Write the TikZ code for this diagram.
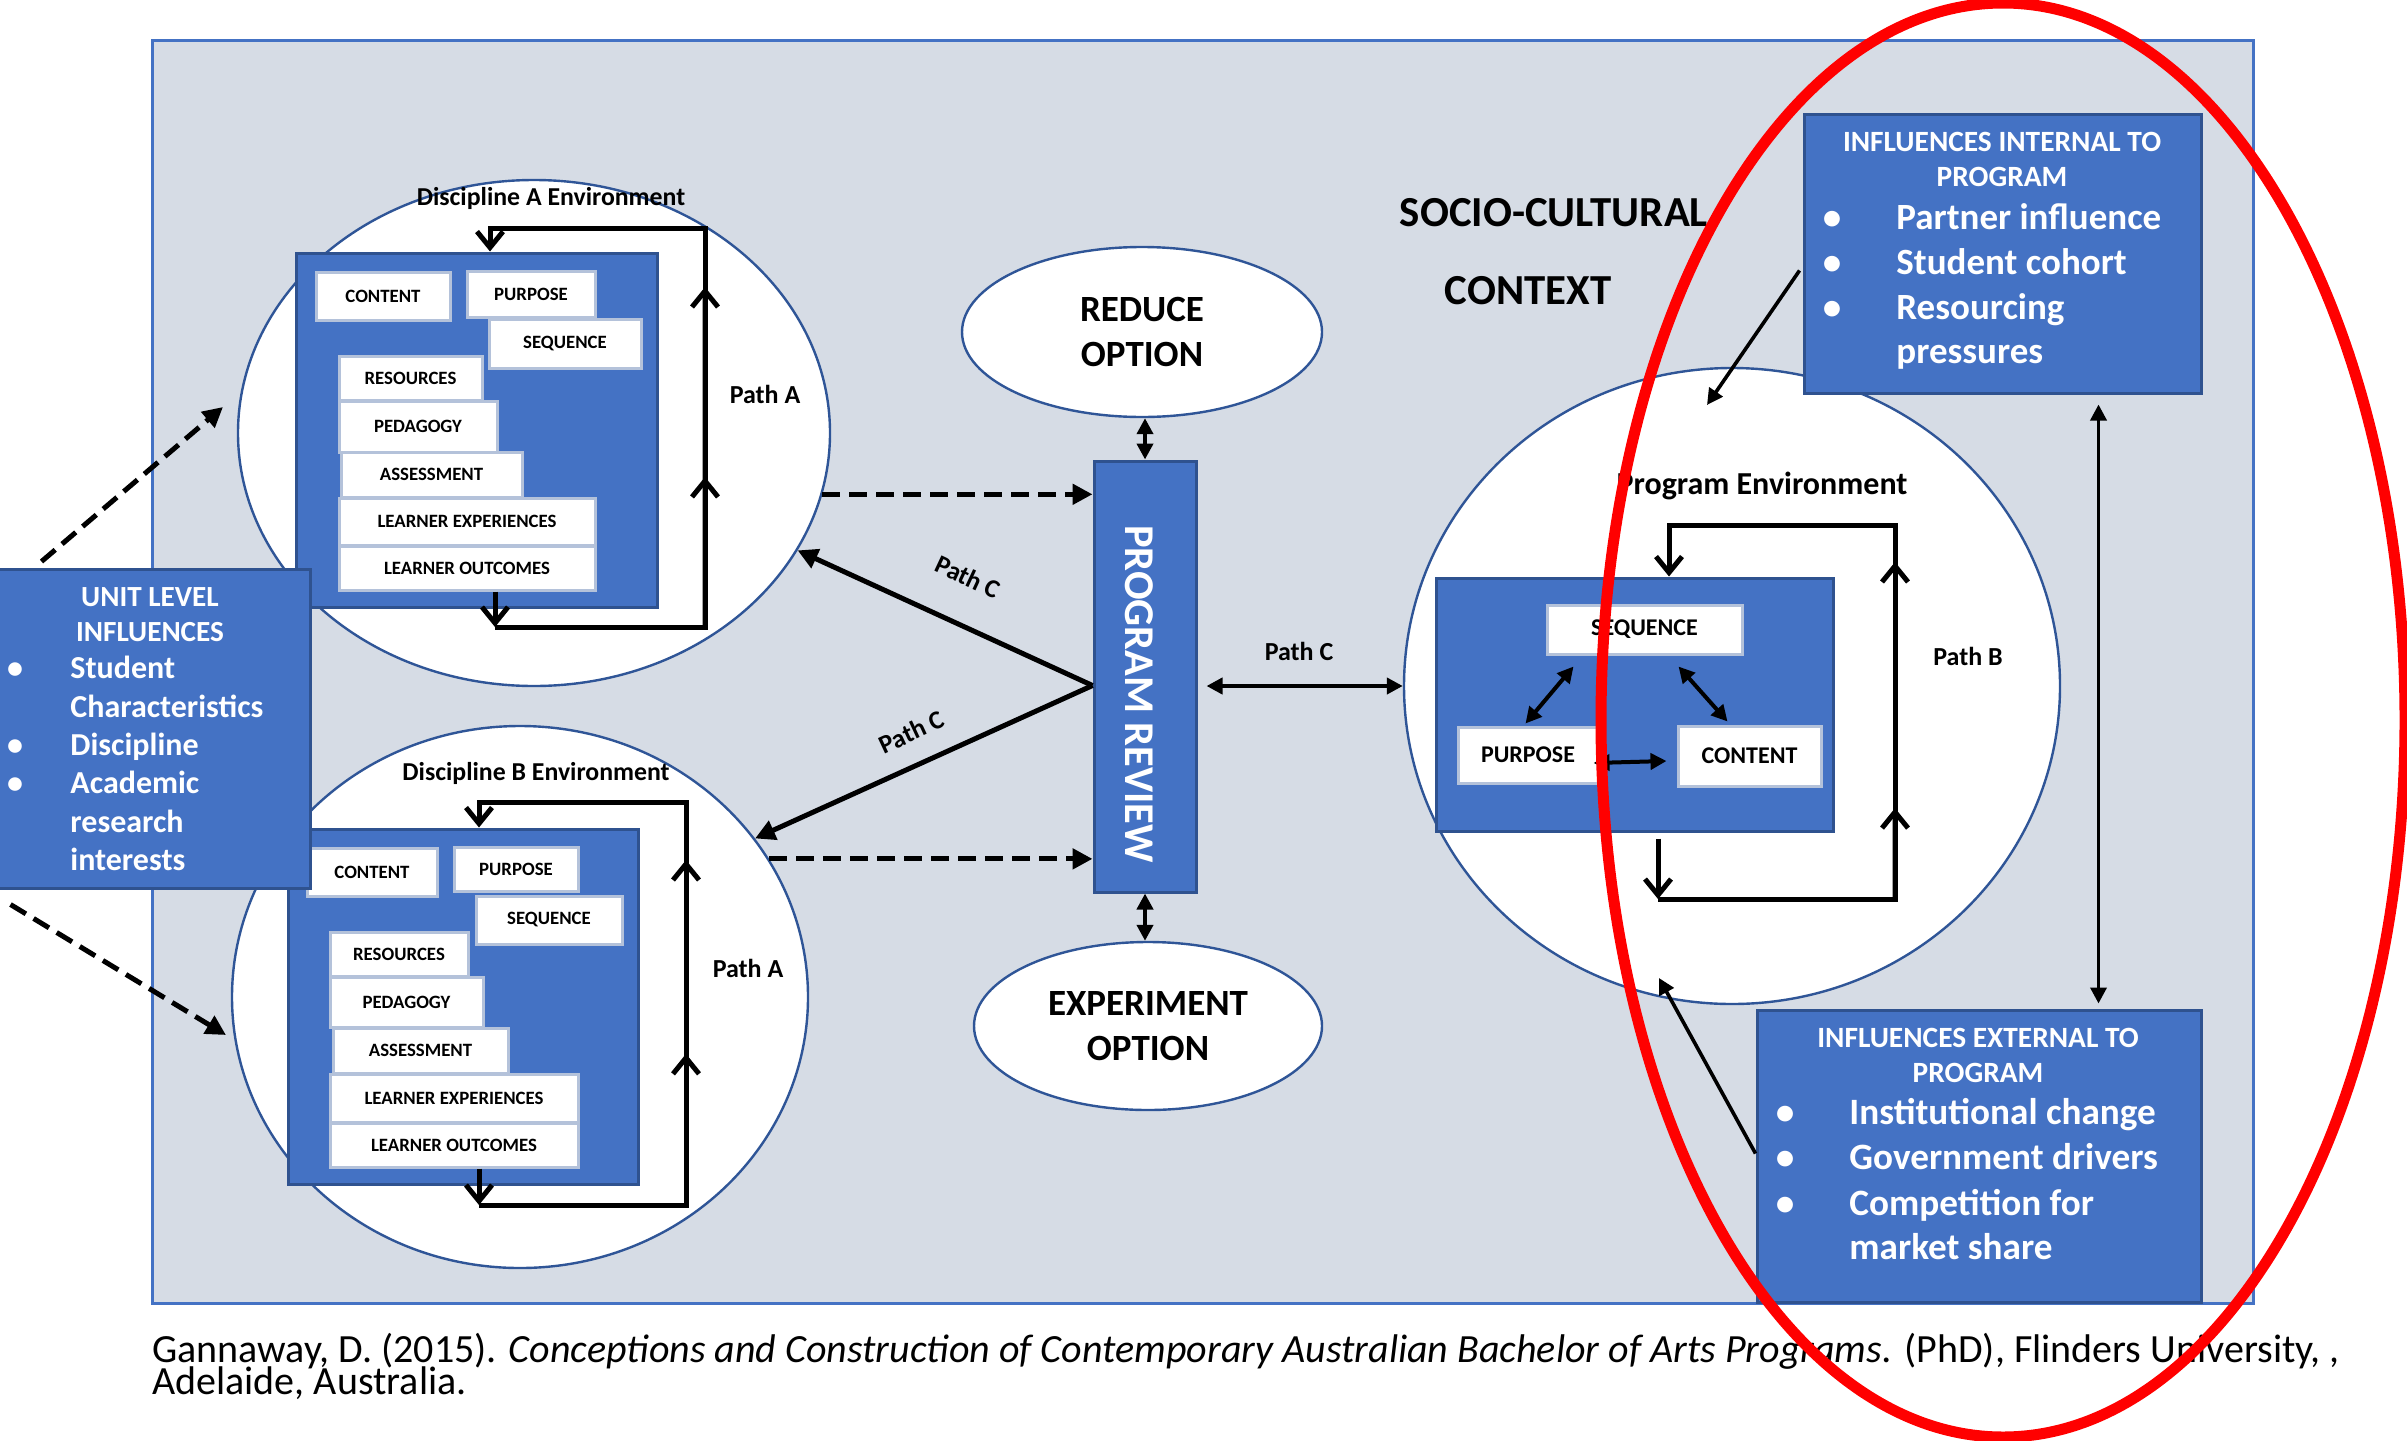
\documentclass[tikz,border=0pt]{standalone}
\usepackage{fontspec}
\setmainfont{Carlito}
\usetikzlibrary{shapes.geometric,arrows.meta,calc}
\definecolor{bgfill}{HTML}{D6DCE5}
\definecolor{bgline}{HTML}{4472C4}
\definecolor{bluefill}{HTML}{4472C4}
\definecolor{blueline}{HTML}{2F528F}
\definecolor{circline}{HTML}{2F5597}
\definecolor{wline}{HTML}{B4C2DA}
\definecolor{redring}{HTML}{FF0000}
\newcommand\fsz[1]{\fontsize{#1}{#1}\selectfont}
\newcommand\mkbox[7]{%
  \pgfmathsetmacro\mkX{(#3+#5)/2}%
  \pgfmathsetmacro\mkY{(#4+#6)/2}%
  \pgfmathsetmacro\mkW{(#5-#3)/2}%
  \pgfmathsetmacro\mkH{(#6-#4)/2}%
  \node[#1, minimum width=\mkW pt, minimum height=\mkH pt] (#2) at (\mkX,\mkY) {#7};%
}
\tikzset{
  bg/.style={draw=bgline, fill=bgfill, line width=1.5pt, inner sep=0},
  bluebox/.style={draw=blueline, fill=bluefill, line width=1.5pt, inner sep=0},
  wbox/.style={draw=wline, fill=white, line width=1.5pt, inner sep=0, font=\bfseries\fsz{9.4}},
  pbox/.style={wbox, font=\bfseries\fsz{12}},
  envell/.style={ellipse, draw=circline, fill=white, line width=1.2pt, inner sep=0},
  loopline/.style={line width=2.5pt, line join=miter},
  loophead/.style={loopline, -{Straight Barb[length=8pt,width=13pt]}},
  solidarrow/.style={line width=2.5pt, -{Triangle[length=10pt,width=10pt]}},
  dasharrow/.style={line width=2.5pt, dash pattern=on 9pt off 4.5pt, -{Triangle[length=10pt,width=10pt]}},
  dblarrow/.style={line width=2pt, {Triangle[length=8pt,width=8pt]}-{Triangle[length=8pt,width=8pt]}},
  thinarrow/.style={line width=1.8pt, -{Triangle[length=8pt,width=8pt]}},
  lbl/.style={font=\bfseries\fsz{13}, inner sep=0},
  wtxt/.style={text=white, inner sep=0},
}
\begin{document}
\begin{tikzpicture}[x=0.5pt,y=-0.5pt]
\useasboundingbox (0,0) rectangle (2407,1440);
% background
\mkbox{bg}{bgr}{152}{40}{2253}{1303}{}
% environment ellipses
\node[envell, minimum width=296pt, minimum height=253pt] (discA) at (534,433) {};
\node[envell, minimum width=288pt, minimum height=271pt] (discB) at (520,997) {};
\node[envell, minimum width=328pt, minimum height=318pt] (progc) at (1732,686) {};
\node[envell, minimum width=180pt, minimum height=85pt, font=\bfseries\fontsize{18.5}{22.5}\selectfont, align=center] (reduce) at (1142,332) {REDUCE\\OPTION};
\node[envell, minimum width=174pt, minimum height=84pt, font=\bfseries\fontsize{18.5}{22.5}\selectfont, align=center] (expt) at (1148,1026) {EXPERIMENT\\OPTION};
% discipline A
\mkbox{bluebox}{boxA}{296}{253}{657}{607}{}
\mkbox{wbox}{aCo}{316}{272}{450}{320}{CONTENT}
\mkbox{wbox}{aPu}{467}{271}{595}{317}{PURPOSE}
\mkbox{wbox}{aSe}{489}{319}{641}{368}{SEQUENCE}
\mkbox{wbox}{aRe}{339}{356}{482}{400}{RESOURCES}
\mkbox{wbox}{aPe}{339}{401}{497}{452}{PEDAGOGY}
\mkbox{wbox}{aAs}{341}{452}{522}{497}{ASSESSMENT}
\mkbox{wbox}{aLE}{339}{498}{595}{545}{LEARNER EXPERIENCES}
\mkbox{wbox}{aLO}{339}{546}{595}{590}{LEARNER OUTCOMES}
% discipline B
\mkbox{bluebox}{boxB}{288}{829}{638}{1184}{}
\mkbox{wbox}{bCo}{307}{848}{437}{896}{CONTENT}
\mkbox{wbox}{bPu}{454}{847}{578}{891}{PURPOSE}
\mkbox{wbox}{bSe}{476}{896}{622}{944}{SEQUENCE}
\mkbox{wbox}{bRe}{330}{932}{468}{976}{RESOURCES}
\mkbox{wbox}{bPe}{330}{977}{483}{1027}{PEDAGOGY}
\mkbox{wbox}{bAs}{333}{1028}{508}{1073}{ASSESSMENT}
\mkbox{wbox}{bLE}{330}{1074}{578}{1122}{LEARNER EXPERIENCES}
\mkbox{wbox}{bLO}{330}{1123}{578}{1167}{LEARNER OUTCOMES}
% program environment
\mkbox{bluebox}{progbox}{1436}{578}{1833}{831}{}
\mkbox{pbox}{pSe}{1547}{605}{1742}{654}{SEQUENCE}
\mkbox{pbox}{pPu}{1458}{727}{1598}{783}{PURPOSE}
\mkbox{pbox}{pCo}{1678}{726}{1821}{786}{CONTENT}
% program review
\mkbox{bluebox}{PR}{1094}{461}{1196}{892}{}
\node[wtxt, rotate=-90, font=\bfseries\fsz{21.2}] (prtext) at (1139,694) {PROGRAM REVIEW};
% loop A
\coordinate (aB) at (495,627);
\coordinate (aBR) at (705,627);
\coordinate (aTR) at (705,228);
\coordinate (aT) at (490,228);
\draw[loophead] (aLO.south -| aB) -- (aB);
\draw[loophead] (aB) -- (aBR) -- (aTR) -- (aT) -- (aT |- boxA.north);
\draw[loophead] (aBR) -- ($(aBR)!0.376!(aTR)$);
\draw[loophead] (aBR) -- ($(aBR)!0.852!(aTR)$);
% loop B
\coordinate (bB) at (479,1205);
\coordinate (bBR) at (686,1205);
\coordinate (bTR) at (686,802);
\coordinate (bT) at (479,802);
\draw[loophead] (bLO.south -| bB) -- (bB);
\draw[loophead] (bB) -- (bBR) -- (bTR) -- (bT) -- (bT |- boxB.north);
\draw[loophead] (bBR) -- ($(bBR)!0.375!(bTR)$);
\draw[loophead] (bBR) -- ($(bBR)!0.856!(bTR)$);
% loop P
\coordinate (pB) at (1658,899);
\coordinate (pBR) at (1895,899);
\coordinate (pTR) at (1895,525);
\coordinate (pT) at (1669,525);
\draw[loophead] ($(progbox.south -| pB)+(0,6)$) -- (pB);
\draw[loophead] (pB) -- (pBR) -- (pTR) -- (pT) -- (pT |- progbox.north);
\draw[loophead] (pBR) -- ($(pBR)!0.243!(pTR)$);
\draw[loophead] (pBR) -- ($(pBR)!0.901!(pTR)$);
% program inner arrows
\draw[dblarrow] ($(pSe.south west)+(28,11)$) -- ($(pPu.north west)+(69,-2)$);
\draw[dblarrow] ($(pSe.south west)+(133,11)$) -- ($(pCo.north west)+(51,-3)$);
\draw[dblarrow] ($(pPu.east)+(-6,8)$) -- ($(pCo.west)+(-10,5)$);
% path C
\coordinate (apex) at ($(PR.west)+(0,9)$);
\draw[solidarrow] (apex) -- (discA.-24);
\draw[solidarrow] (apex) -- (discB.34);
\node[lbl, rotate=-25] (pcA) at (968,577) {Path C};
\node[lbl, rotate=25] (pcB) at (911,732) {Path C};
\draw[dblarrow] (PR.east |- progc.west) ++(9,0) -- (progc.west);
\node[lbl] (pcC) at (1299,651) {Path C};
% dashed arrows to program review
\draw[dasharrow] (discA.-12) -- (discA.-12 -| PR.west);
\draw[dasharrow] (discB.29) -- (discB.29 -| PR.west);
% option arrows
\draw[dblarrow] (PR.north) -- (PR.north |- reduce.south);
\draw[dblarrow] (PR.south) -- (PR.south |- expt.north);
% labels
\node[lbl] (envA) at (551,198) {\fsz{12.9}Discipline A Environment};
\node[lbl] (envB) at (536,773) {\fsz{12.9}Discipline B Environment};
\node[lbl] (envP) at (1762,486) {\fsz{16}Program Environment};
\node[lbl] (paA) at (765,394) {Path A};
\node[lbl] (paB) at (748,968) {Path A};
\node[lbl] (pbB) at (1968,656) {Path B};
\node[lbl, font=\bfseries\fsz{21.4}] (soc1) at (1554,213) {SOCIO-CULTURAL};
\node[lbl, font=\bfseries\fsz{21.4}] (soc2) at (1528,291) {CONTEXT};
% unit level influences
\mkbox{bluebox}{unit}{-2}{569}{310}{888}{}
\node[wtxt, font=\bfseries\fsz{14.6}] (uT1) at (150,597) {UNIT LEVEL};
\node[wtxt, font=\bfseries\fsz{14.6}] (uT2) at (150,632) {INFLUENCES};
\begin{scope}[every node/.style={wtxt, anchor=base west, font=\bfseries\fsz{16}}]
\node (u1) at (70,678) {Student};
\node (u2) at (70,717) {Characteristics};
\node (u3) at (70,755) {Discipline};
\node (u4) at (70,793) {Academic};
\node (u5) at (70,832) {research};
\node (u6) at (70,870) {interests};
\end{scope}
\begin{scope}[every node/.style={wtxt, anchor=base, font=\bfseries\fsz{16}}]
\node (ub1) at (15,678) {\textbullet};
\node (ub2) at (15,755) {\textbullet};
\node (ub3) at (15,793) {\textbullet};
\end{scope}
\draw[dasharrow] ($(unit.north west)+(45,-6)$) -- (223,407) coordinate (uTipA);
\draw[dasharrow] ($(unit.south west)+(14,15)$) -- (226,1035) coordinate (uTipB);
% internal influences
\mkbox{bluebox}{intbox}{1804}{114}{2201}{393}{}
\node[wtxt, font=\bfseries\fsz{14.7}] (iT1) at (2002,142) {INFLUENCES INTERNAL TO};
\node[wtxt, font=\bfseries\fsz{14.7}] (iT2) at (2002,177) {PROGRAM};
\begin{scope}[every node/.style={wtxt, anchor=base west, font=\bfseries\fsz{18.5}}]
\node (i1) at (1896,229) {Partner influence};
\node (i2) at (1896,274) {Student cohort};
\node (i3) at (1896,319) {Resourcing};
\node (i4) at (1896,363) {pressures};
\end{scope}
\begin{scope}[every node/.style={wtxt, anchor=base, font=\bfseries\fsz{18.5}}]
\node (ib1) at (1832,229) {\textbullet};
\node (ib2) at (1832,274) {\textbullet};
\node (ib3) at (1832,319) {\textbullet};
\end{scope}
% external influences
\mkbox{bluebox}{extbox}{1757}{1010}{2201}{1302}{}
\node[wtxt, font=\bfseries\fsz{14.7}] (eT1) at (1978,1038) {INFLUENCES EXTERNAL TO};
\node[wtxt, font=\bfseries\fsz{14.7}] (eT2) at (1978,1073) {PROGRAM};
\begin{scope}[every node/.style={wtxt, anchor=base west, font=\bfseries\fsz{18.6}}]
\node (e1) at (1849,1124) {Institutional change};
\node (e2) at (1849,1169) {Government drivers};
\node (e3) at (1849,1215) {Competition for};
\node (e4) at (1849,1259) {market share};
\end{scope}
\begin{scope}[every node/.style={wtxt, anchor=base, font=\bfseries\fsz{18.6}}]
\node (eb1) at (1785,1124) {\textbullet};
\node (eb2) at (1785,1169) {\textbullet};
\node (eb3) at (1785,1215) {\textbullet};
\end{scope}
% influence arrows
\draw[thinarrow] ($(intbox.north west)+(-3,158)$) -- (1707,405) coordinate (iTip);
\draw[thinarrow] ($(extbox.north west)+(0,145)$) -- (1659,978) coordinate (eTip);
\draw[line width=1.8pt, {Triangle[length=8pt,width=8pt]}-{Triangle[length=8pt,width=8pt]}] ($(intbox.south west)+(296,10)$) -- ($(extbox.north west)+(343,-5)$);
% citation
\node[anchor=base west, inner sep=0, font=\fsz{20}] (cite1) at (152,1362) {Gannaway, D. (2015). \textit{Conceptions and Construction of Contemporary Australian Bachelor of Arts Programs.} (PhD), Flinders University, ,};
\node[anchor=base west, inner sep=0, font=\fsz{20}] (cite2) at (152,1394) {Adelaide, Australia.};
% red ring
\draw[redring, line width=5.5pt] (2003,720) ellipse [x radius=201pt, y radius=358.5pt];
\end{tikzpicture}
\end{document}
